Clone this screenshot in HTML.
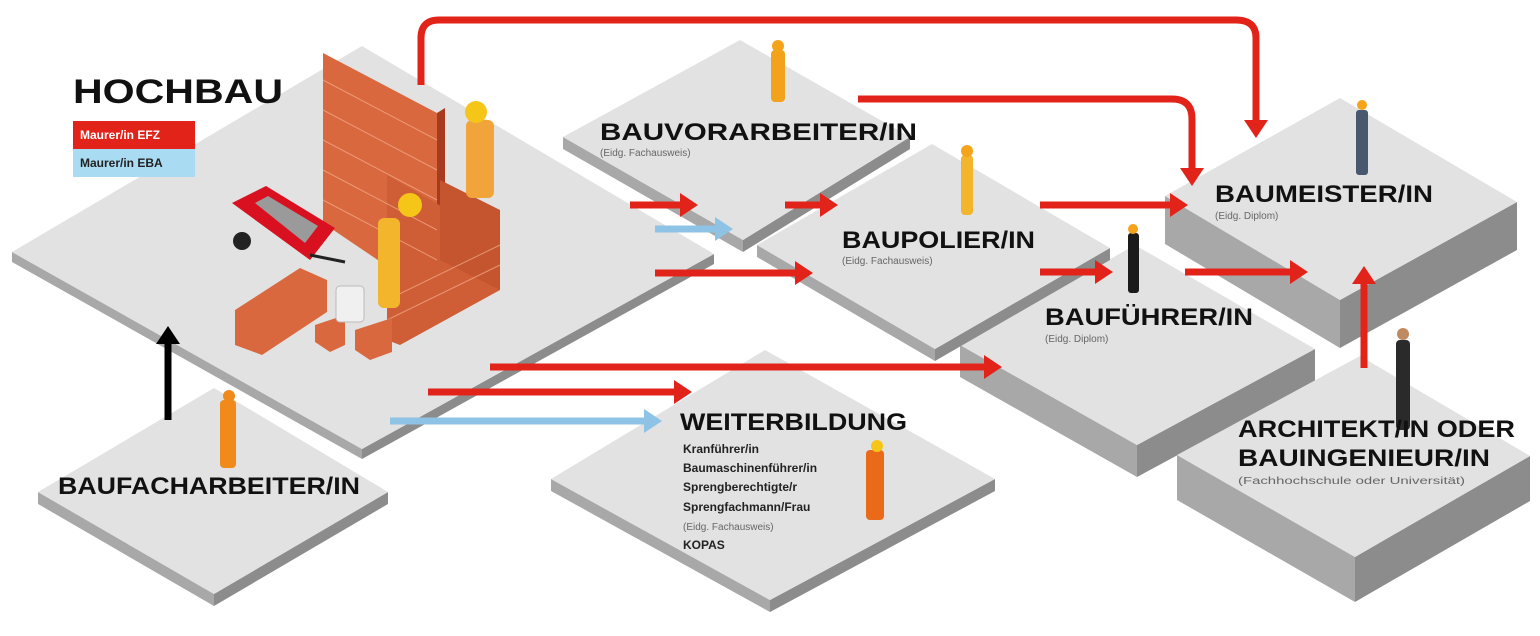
<!DOCTYPE html>
<html><head><meta charset="utf-8"><style>
html,body{margin:0;padding:0;background:#fff}
svg{display:block}
text{font-family:"Liberation Sans",sans-serif}
.h{font-weight:bold;fill:#111}
.s{font-size:10px;fill:#666}
.l{font-size:12px;font-weight:bold;fill:#222}
</style></head><body>
<svg width="1540" height="636" viewBox="0 0 1540 636" xmlns="http://www.w3.org/2000/svg">
<defs>
<marker id="ar" markerUnits="userSpaceOnUse" markerWidth="18" markerHeight="24" refX="4" refY="12" orient="auto"><path d="M0,0 L18,12 L0,24 Z" fill="#e2231a"/></marker>
<marker id="ab" markerUnits="userSpaceOnUse" markerWidth="18" markerHeight="24" refX="4" refY="12" orient="auto"><path d="M0,0 L18,12 L0,24 Z" fill="#8ec3e6"/></marker>
<marker id="ak" markerUnits="userSpaceOnUse" markerWidth="18" markerHeight="24" refX="4" refY="12" orient="auto"><path d="M0,0 L18,12 L0,24 Z" fill="#000"/></marker>
</defs>
<g stroke="none">
<!-- Hochbau -->
<polygon points="12,252 362,449 362,459 12,262" fill="#a8a8a8"/>
<polygon points="362,449 714,254 714,264 362,459" fill="#8c8c8c"/>
<polygon points="12,252 362,46 714,254 362,449" fill="#e2e2e2"/>
<!-- Baufach -->
<polygon points="38,492 214,594 214,606 38,504" fill="#a8a8a8"/>
<polygon points="214,594 388,492 388,504 214,606" fill="#8c8c8c"/>
<polygon points="38,492 214,388 388,492 214,594" fill="#e2e2e2"/>
<!-- Weiter -->
<polygon points="551,479 770,600 770,612 551,491" fill="#a8a8a8"/>
<polygon points="770,600 995,479 995,491 770,612" fill="#8c8c8c"/>
<polygon points="551,479 765,350 995,479 770,600" fill="#e2e2e2"/>
<!-- Bauvor -->
<polygon points="563,137 743,240 743,252 563,149" fill="#a8a8a8"/>
<polygon points="743,240 910,137 910,149 743,252" fill="#8c8c8c"/>
<polygon points="563,137 740,40 910,137 743,240" fill="#e2e2e2"/>
<!-- Baufuehrer -->
<polygon points="960,345 1137,445 1137,477 960,377" fill="#a8a8a8"/>
<polygon points="1137,445 1315,349 1315,381 1137,477" fill="#8c8c8c"/>
<polygon points="960,345 1135,245 1315,349 1137,445" fill="#e2e2e2"/>
<!-- Baupolier -->
<polygon points="757,245 935,349 935,361 757,257" fill="#a8a8a8"/>
<polygon points="935,349 1110,248 1110,260 935,361" fill="#8c8c8c"/>
<polygon points="757,245 932,144 1110,248 935,349" fill="#e2e2e2"/>
<!-- Baumeister -->
<polygon points="1165,196 1340,300 1340,348 1165,244" fill="#a8a8a8"/>
<polygon points="1340,300 1517,202 1517,250 1340,348" fill="#8c8c8c"/>
<polygon points="1165,196 1340,98 1517,202 1340,300" fill="#e2e2e2"/>
<!-- Architekt -->
<polygon points="1177,455 1355,557 1355,602 1177,500" fill="#a8a8a8"/>
<polygon points="1355,557 1530,456 1530,501 1355,602" fill="#8c8c8c"/>
<polygon points="1177,455 1360,356 1530,456 1355,557" fill="#e2e2e2"/>
</g>

<!-- brick wall illustration -->
<g>
<polygon points="323,53 437,113 437,300 323,223" fill="#d9683f"/>
<polygon points="437,113 445,108 445,290 437,300" fill="#a63b20"/>
<polygon points="387,175 500,240 500,290 400,345 387,340" fill="#cf5d35"/>
<polygon points="440,180 500,210 500,290 440,260" fill="#c4552f"/>
<g stroke="#f2b08e" stroke-width="1" opacity=".7">
<line x1="323" y1="80" x2="437" y2="140"/><line x1="323" y1="110" x2="437" y2="170"/><line x1="323" y1="140" x2="437" y2="200"/><line x1="323" y1="170" x2="437" y2="230"/><line x1="323" y1="200" x2="437" y2="260"/>
<line x1="387" y1="300" x2="500" y2="245"/><line x1="387" y1="320" x2="500" y2="265"/>
</g>
<!-- wheelbarrow -->
<polygon points="232,203 266,186 335,228 310,260" fill="#d9101f"/>
<polygon points="255,203 268,196 318,226 305,243" fill="#9a9a9a"/>
<circle cx="242" cy="241" r="9" fill="#222"/>
<line x1="310" y1="255" x2="345" y2="262" stroke="#222" stroke-width="3"/>
<!-- bricks piles -->
<polygon points="235,310 300,268 327,280 327,312 262,355 235,345" fill="#d9683f"/>
<polygon points="315,325 345,315 345,345 330,352 315,342" fill="#d9683f"/>
<polygon points="355,330 392,318 392,352 370,360 355,350" fill="#d9683f"/>
<rect x="336" y="286" width="28" height="36" rx="4" fill="#f0f0f0" stroke="#bbb"/>
<!-- workers -->
<rect x="378" y="218" width="22" height="90" rx="6" fill="#f2b52b"/>
<circle cx="410" cy="205" r="12" fill="#f5c518"/>
<rect x="466" y="120" width="28" height="78" rx="6" fill="#f0a43a"/>
<circle cx="476" cy="112" r="11" fill="#f5c518"/>
</g>

<!-- small people -->
<g>
<rect x="771" y="50" width="14" height="52" rx="4" fill="#f2a21b"/><circle cx="778" cy="46" r="6" fill="#f5a31b"/>
<rect x="961" y="155" width="12" height="60" rx="4" fill="#f2b52b"/><circle cx="967" cy="151" r="6" fill="#f5a31b"/>
<rect x="1128" y="233" width="11" height="60" rx="3" fill="#1b1b1b"/><circle cx="1133" cy="229" r="5" fill="#f5a31b"/>
<rect x="1356" y="110" width="12" height="65" rx="3" fill="#48596f"/><circle cx="1362" cy="105" r="5" fill="#f5a31b"/>
<rect x="1396" y="340" width="14" height="90" rx="4" fill="#2a2a2a"/><circle cx="1403" cy="334" r="6" fill="#c08a60"/>
<rect x="866" y="450" width="18" height="70" rx="4" fill="#ea6a1a"/><circle cx="877" cy="446" r="6" fill="#f5c518"/>
<rect x="220" y="400" width="16" height="68" rx="4" fill="#f08a1a"/><circle cx="229" cy="396" r="6" fill="#f08a1a"/>
</g>

<!-- arrows -->
<g fill="none" stroke-width="7">
<path d="M421,85 V38 Q421,20 439,20 H1236 Q1256,20 1256,38 V124" stroke="#e2231a" marker-end="url(#ar)"/>
<path d="M858,99 H1172 Q1192,99 1192,119 V172" stroke="#e2231a" marker-end="url(#ar)"/>
<line x1="630" y1="205" x2="684" y2="205" stroke="#e2231a" marker-end="url(#ar)"/>
<line x1="655" y1="229" x2="719" y2="229" stroke="#8ec3e6" marker-end="url(#ab)"/>
<line x1="785" y1="205" x2="824" y2="205" stroke="#e2231a" marker-end="url(#ar)"/>
<line x1="655" y1="273" x2="799" y2="273" stroke="#e2231a" marker-end="url(#ar)"/>
<line x1="1040" y1="205" x2="1174" y2="205" stroke="#e2231a" marker-end="url(#ar)"/>
<line x1="1040" y1="272" x2="1099" y2="272" stroke="#e2231a" marker-end="url(#ar)"/>
<line x1="1185" y1="272" x2="1294" y2="272" stroke="#e2231a" marker-end="url(#ar)"/>
<line x1="1364" y1="368" x2="1364" y2="280" stroke="#e2231a" marker-end="url(#ar)"/>
<line x1="490" y1="367" x2="988" y2="367" stroke="#e2231a" marker-end="url(#ar)"/>
<line x1="428" y1="392" x2="678" y2="392" stroke="#e2231a" marker-end="url(#ar)"/>
<line x1="390" y1="421" x2="648" y2="421" stroke="#8ec3e6" marker-end="url(#ab)"/>
<line x1="168" y1="420" x2="168" y2="340" stroke="#000" marker-end="url(#ak)"/>
</g>

<!-- texts -->
<text x="73" y="103" class="h" font-size="34" textLength="210" lengthAdjust="spacingAndGlyphs">HOCHBAU</text>
<rect x="73" y="121" width="122" height="28" fill="#e2231a"/>
<rect x="73" y="149" width="122" height="28" fill="#a9dbf2"/>
<text x="80" y="139" font-size="12" font-weight="bold" fill="#fff">Maurer/in EFZ</text>
<text x="80" y="167" font-size="12" font-weight="bold" fill="#222">Maurer/in EBA</text>

<text x="600" y="140" class="h" font-size="24" textLength="317" lengthAdjust="spacingAndGlyphs">BAUVORARBEITER/IN</text>
<text x="600" y="156" class="s">(Eidg. Fachausweis)</text>
<text x="842" y="248" class="h" font-size="24" textLength="193" lengthAdjust="spacingAndGlyphs">BAUPOLIER/IN</text>
<text x="842" y="264" class="s">(Eidg. Fachausweis)</text>
<text x="1045" y="325" class="h" font-size="24" textLength="208" lengthAdjust="spacingAndGlyphs">BAUFÜHRER/IN</text>
<text x="1045" y="342" class="s">(Eidg. Diplom)</text>
<text x="1215" y="202" class="h" font-size="24" textLength="218" lengthAdjust="spacingAndGlyphs">BAUMEISTER/IN</text>
<text x="1215" y="219" class="s">(Eidg. Diplom)</text>
<text x="1238" y="437" class="h" font-size="24" textLength="277" lengthAdjust="spacingAndGlyphs">ARCHITEKT/IN ODER</text>
<text x="1238" y="466" class="h" font-size="24" textLength="252" lengthAdjust="spacingAndGlyphs">BAUINGENIEUR/IN</text>
<text x="1238" y="484" class="s" textLength="227" lengthAdjust="spacingAndGlyphs">(Fachhochschule oder Universität)</text>
<text x="680" y="430" class="h" font-size="24" textLength="227" lengthAdjust="spacingAndGlyphs">WEITERBILDUNG</text>
<text x="683" y="453" class="l">Kranführer/in</text>
<text x="683" y="472" class="l">Baumaschinenführer/in</text>
<text x="683" y="491" class="l">Sprengberechtigte/r</text>
<text x="683" y="511" class="l">Sprengfachmann/Frau</text>
<text x="683" y="530" class="s" font-size="11">(Eidg. Fachausweis)</text>
<text x="683" y="549" class="l">KOPAS</text>
<text x="58" y="494" class="h" font-size="24" textLength="302" lengthAdjust="spacingAndGlyphs">BAUFACHARBEITER/IN</text>
</svg>
</body></html>
